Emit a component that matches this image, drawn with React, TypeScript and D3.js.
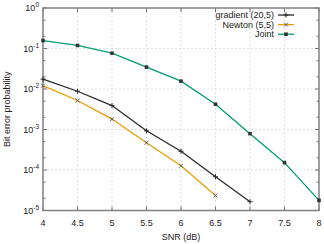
import React, { useEffect, useRef } from 'react';
import * as d3 from 'd3';

const snr = [4, 4.5, 5, 5.5, 6, 6.5, 7, 7.5, 8];
const gradientBer = [0.0175, 0.0088, 0.0039, 0.00093, 0.00029, 0.000068, 0.0000165];
const newtonBer = [0.0121, 0.0052, 0.00181, 0.00047, 0.000127, 0.0000235];
const jointBer = [0.157, 0.119, 0.0765, 0.0347, 0.0156, 0.0042, 0.00079, 0.000152, 0.0000178];
const xTicks = [4, 4.5, 5, 5.5, 6, 6.5, 7, 7.5, 8];
const yExponents = [0, -1, -2, -3, -4, -5];

const seriesList = [
  { name: 'gradient (20,5)', values: gradientBer, color: '#2b2b2b', marker: 'plus' },
  { name: 'Newton (5,5)', values: newtonBer, color: '#e69f00', marker: 'cross' },
  { name: 'Joint', values: jointBer, color: '#009e73', marker: 'square' },
];

const App = () => {
  const ref = useRef<SVGSVGElement>(null);

  useEffect(() => {
    const svg = d3.select(ref.current);
    svg.selectAll('*').remove();
    const width = 324;
    const height = 244;
    const margin = { top: 8, left: 43, bottom: 33.5, right: 5 };
    const iw = width - margin.left - margin.right;
    const ih = height - margin.top - margin.bottom;
    const font = 'Liberation Sans, Arial, sans-serif';

    const x = d3.scaleLinear().domain([4, 8]).range([0, iw]);
    const y = d3.scaleLog().domain([1e-5, 1]).range([ih, 0]);

    const g = svg.append('g').attr('transform', `translate(${margin.left},${margin.top})`);

    // grid
    g.selectAll('.gx').data(xTicks.slice(1, -1)).enter().append('line')
      .attr('x1', (d) => x(d)).attr('x2', (d) => x(d)).attr('y1', 0).attr('y2', ih)
      .attr('stroke', '#d8d8d8').attr('stroke-width', 0.8).attr('stroke-dasharray', '2,2');
    g.selectAll('.gy').data(yExponents.slice(1, -1)).enter().append('line')
      .attr('x1', 0).attr('x2', iw).attr('y1', (d) => y(Math.pow(10, d))).attr('y2', (d) => y(Math.pow(10, d)))
      .attr('stroke', '#d8d8d8').attr('stroke-width', 0.8).attr('stroke-dasharray', '2,2');

    // ticks
    const tickColor = '#707070';
    xTicks.forEach((t) => {
      g.append('line').attr('x1', x(t)).attr('x2', x(t)).attr('y1', ih).attr('y2', ih - 4).attr('stroke', tickColor);
      g.append('line').attr('x1', x(t)).attr('x2', x(t)).attr('y1', 0).attr('y2', 4).attr('stroke', tickColor);
      g.append('text').attr('x', x(t)).attr('y', ih + 15).attr('text-anchor', 'middle')
        .attr('font-family', font).attr('font-size', 9).attr('fill', '#222').text(String(t));
    });
    yExponents.forEach((e) => {
      const v = Math.pow(10, e);
      [[0, 4], [iw, iw - 4]].forEach(([a, b]) => {
        g.append('line').attr('x1', a).attr('x2', b).attr('y1', y(v)).attr('y2', y(v)).attr('stroke', tickColor);
      });
      if (e > -5) {
        [2, 5].forEach((m) => {
          const yy = y(v * m / 10);
          [[0, 2.5], [iw, iw - 2.5]].forEach(([a, b]) => {
            g.append('line').attr('x1', a).attr('x2', b).attr('y1', yy).attr('y2', yy).attr('stroke', tickColor);
          });
        });
      }
      const label = g.append('text').attr('x', -4).attr('y', y(v) + 3).attr('text-anchor', 'end')
        .attr('font-family', font).attr('font-size', 9).attr('fill', '#222');
      label.append('tspan').text('10');
      label.append('tspan').attr('dy', -4).attr('font-size', 6.5).text(String(e));
    });

    // frame
    g.append('rect').attr('x', 0).attr('y', 0).attr('width', iw).attr('height', ih)
      .attr('fill', 'none').attr('stroke', '#808080').attr('stroke-width', 1.5);

    const line = d3.line<number>().x((d, i) => x(snr[i])).y((d) => y(d));

    const drawMarker = (sel: any, kind: string, cx: number, cy: number, color: string) => {
      if (kind === 'plus') {
        sel.append('path').attr('d', `M${cx - 2.5},${cy}H${cx + 2.5}M${cx},${cy - 2.5}V${cy + 2.5}`)
          .attr('stroke', color).attr('stroke-width', 1);
      } else if (kind === 'cross') {
        sel.append('path').attr('d', `M${cx - 2},${cy - 2}L${cx + 2},${cy + 2}M${cx - 2},${cy + 2}L${cx + 2},${cy - 2}`)
          .attr('stroke', '#555').attr('stroke-width', 0.9);
      } else {
        sel.append('rect').attr('x', cx - 1.8).attr('y', cy - 1.8).attr('width', 3.6).attr('height', 3.6)
          .attr('fill', '#333');
      }
    };

    seriesList.forEach((s) => {
      g.append('path').datum(s.values).attr('d', line).attr('fill', 'none')
        .attr('stroke', s.color).attr('stroke-width', 1.3);
      s.values.forEach((v, i) => drawMarker(g, s.marker, x(snr[i]), y(v), s.color));
    });

    // legend
    seriesList.forEach((s, i) => {
      const ly = 7 + i * 9.6;
      g.append('text').attr('x', 231).attr('y', ly + 3).attr('text-anchor', 'end')
        .attr('font-family', font).attr('font-size', 9).attr('fill', '#222').text(s.name);
      g.append('line').attr('x1', 235).attr('x2', 251).attr('y1', ly).attr('y2', ly)
        .attr('stroke', s.color).attr('stroke-width', 1.3);
      drawMarker(g, s.marker, 243, ly, s.color);
    });

    // axis titles
    svg.append('text').attr('x', margin.left + iw / 2).attr('y', 240).attr('text-anchor', 'middle')
      .attr('font-family', font).attr('font-size', 9).attr('fill', '#222').text('SNR (dB)');
    svg.append('text').attr('transform', `translate(10,${margin.top + ih / 2}) rotate(-90)`)
      .attr('text-anchor', 'middle').attr('font-family', font).attr('font-size', 9).attr('fill', '#222')
      .text('Bit error probability');
  }, []);

  return (
    <svg ref={ref} width={324} height={244} style={{ position: 'absolute', left: 0, top: 0, background: '#fff' }} />
  );
};

export default App;
